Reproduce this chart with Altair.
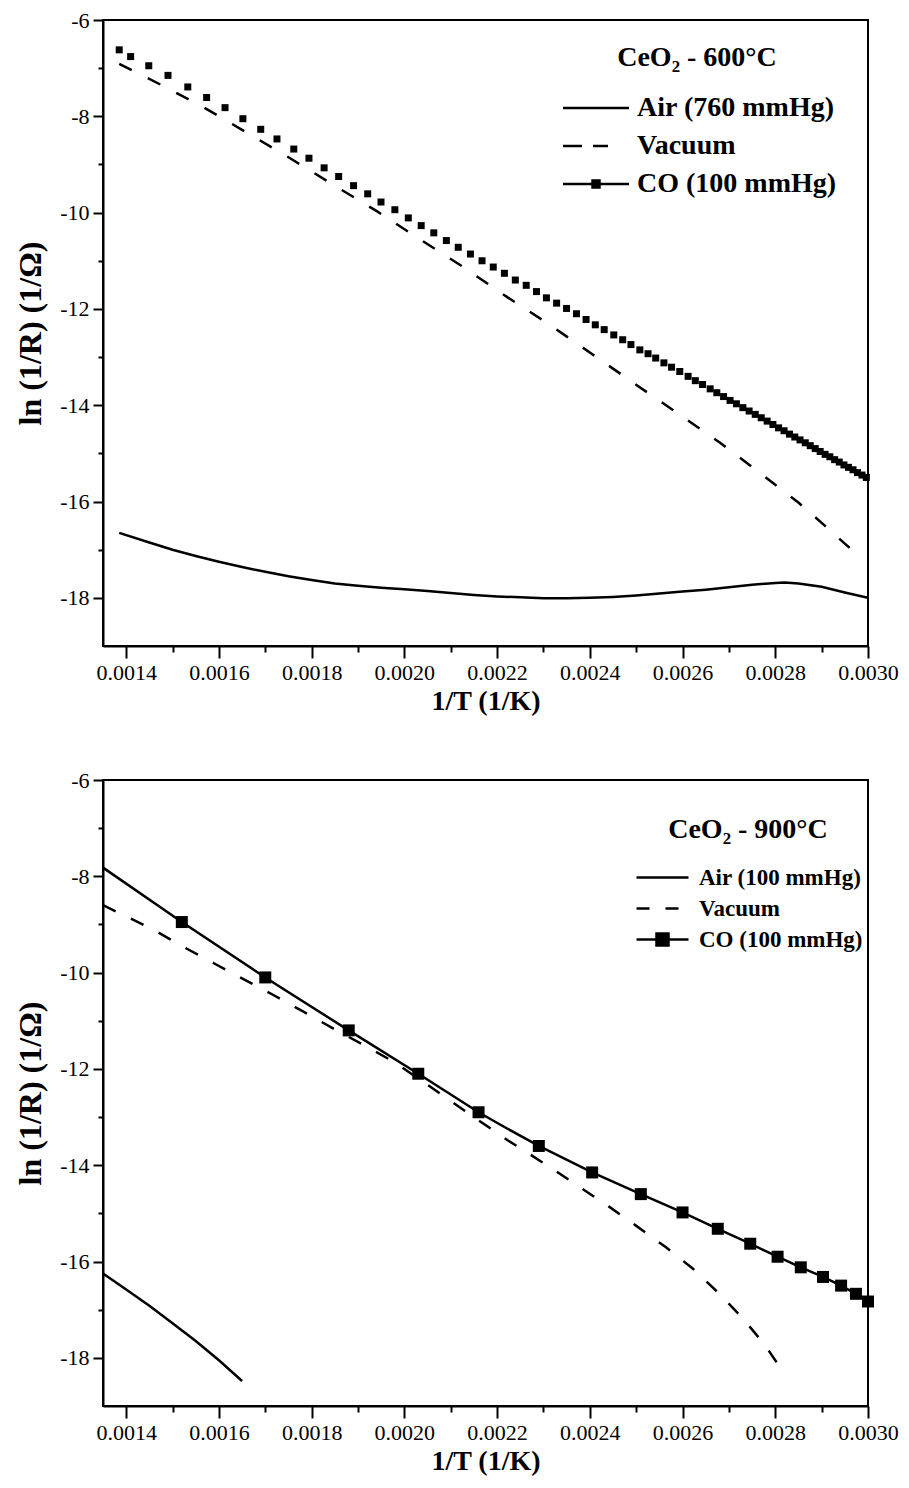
import altair as alt
import pandas as pd

FONT = "Liberation Serif"

# ---------------- Top panel: CeO2 - 600 C ----------------
top_names = ["Air (760 mmHg)", "Vacuum", "CO (100 mmHg)"]

top_air_x = [0.001385, 0.00145, 0.0015, 0.00155, 0.0016, 0.00165, 0.0017, 0.00175, 0.0018,
             0.00185, 0.0019, 0.00195, 0.0020, 0.00205, 0.0021, 0.00215, 0.0022, 0.00225,
             0.0023, 0.00235, 0.0024, 0.00245, 0.0025, 0.00255, 0.0026, 0.00265, 0.0027,
             0.00275, 0.0028, 0.00282, 0.00285, 0.0029, 0.00295, 0.0030]
top_air_y = [-16.65, -16.85, -17.0, -17.13, -17.25, -17.36, -17.46, -17.55, -17.63,
             -17.70, -17.75, -17.79, -17.82, -17.86, -17.90, -17.94, -17.97, -17.99,
             -18.01, -18.01, -18.0, -17.98, -17.95, -17.91, -17.87, -17.83, -17.78,
             -17.73, -17.69, -17.68, -17.70, -17.77, -17.89, -18.0]

top_vac_x = [0.001385, 0.0014737, 0.0015684, 0.0016603, 0.0017536, 0.0018462, 0.0019406,
             0.0020329, 0.0021254, 0.0022180, 0.0023107, 0.0024038, 0.0024962, 0.0025885,
             0.0026810, 0.0027701, 0.0028498, 0.0029068, 0.0029624]
top_vac_y = [-6.91, -7.34, -7.82, -8.34, -8.87, -9.42, -9.97, -10.55, -11.12, -11.73,
             -12.31, -12.93, -13.55, -14.16, -14.78, -15.43, -16.02, -16.50, -16.98]

top_co_x = [0.001385, 0.0014096, 0.0014487, 0.0014902, 0.0015329, 0.0015735, 0.0016132,
            0.0016517, 0.0016902, 0.0017252, 0.0017615, 0.0017942, 0.0018269, 0.0018583,
            0.0018904, 0.0019209, 0.0019496, 0.0019795, 0.0020085, 0.0020363, 0.0020635,
            0.0020906, 0.0021162, 0.0021425, 0.0021675, 0.0021917, 0.0022158, 0.0022393,
            0.0022628, 0.0022850, 0.0023064, 0.0023284, 0.0023498, 0.0023712, 0.0023919,
            0.0024118, 0.0024310, 0.0024517, 0.0024709, 0.0024887, 0.0025079, 0.0025256,
            0.0025421, 0.0025598, 0.0025763, 0.0025940, 0.0026120, 0.0026276, 0.0026432,
            0.0026596, 0.0026739, 0.0026885, 0.0027024, 0.0027162, 0.0027301, 0.0027436,
            0.0027568, 0.0027697, 0.0027825, 0.0027949, 0.0028071, 0.0028190, 0.0028306,
            0.0028421, 0.0028534, 0.0028647, 0.0028754, 0.0028861, 0.0028968, 0.0029075,
            0.0029177, 0.0029280, 0.0029380, 0.0029481, 0.0029579, 0.0029677, 0.0029774,
            0.0029870, 0.0029964]
top_co_y = [-6.62, -6.76, -6.95, -7.15, -7.39, -7.61, -7.82, -8.05, -8.27, -8.47, -8.68,
            -8.87, -9.07, -9.25, -9.44, -9.61, -9.78, -9.94, -10.11, -10.27, -10.42, -10.58,
            -10.72, -10.86, -11.00, -11.13, -11.26, -11.40, -11.51, -11.64, -11.77, -11.88,
            -11.99, -12.10, -12.22, -12.33, -12.43, -12.54, -12.64, -12.74, -12.85, -12.93,
            -13.02, -13.12, -13.21, -13.30, -13.40, -13.49, -13.57, -13.66, -13.74, -13.82,
            -13.90, -13.97, -14.05, -14.12, -14.19, -14.26, -14.33, -14.40, -14.47, -14.53,
            -14.60, -14.66, -14.72, -14.78, -14.84, -14.90, -14.96, -15.02, -15.07, -15.13,
            -15.18, -15.24, -15.29, -15.34, -15.40, -15.45, -15.50]

# ---------------- Bottom panel: CeO2 - 900 C ----------------
bot_names = ["Air (100 mmHg)", "Vacuum", "CO (100 mmHg)"]

bot_air_x = [0.00135, 0.0014, 0.00145, 0.0015, 0.00155, 0.0016, 0.00165]
bot_air_y = [-16.25, -16.58, -16.92, -17.28, -17.65, -18.05, -18.48]

bot_vac_x = [0.00135, 0.0014573, 0.0015223, 0.0015881, 0.0016539, 0.0017165, 0.0017823,
             0.0018481, 0.0019154, 0.0019783, 0.00205, 0.00213, 0.0022228, 0.0023173,
             0.0023791, 0.0024415, 0.0025018, 0.0025636, 0.0026226, 0.0026773, 0.0027291,
             0.0027766, 0.0028192]
bot_vac_y = [-8.6, -9.1, -9.46, -9.8, -10.14, -10.46, -10.81, -11.17, -11.52, -11.86,
             -12.33, -12.87, -13.48, -14.06, -14.46, -14.86, -15.27, -15.70, -16.15, -16.65,
             -17.17, -17.72, -18.32]

bot_co_x = [0.00135, 0.00152, 0.00170, 0.00188, 0.00203, 0.00216, 0.0022072, 0.00229,
            0.002405, 0.00251, 0.0026, 0.002676, 0.002746, 0.002805, 0.002855, 0.002903,
            0.002942, 0.002974, 0.0030]
bot_co_y = [-7.82, -8.95, -10.1, -11.2, -12.1, -12.9, -13.16, -13.6, -14.15, -14.6, -14.98,
            -15.32, -15.63, -15.9, -16.12, -16.32, -16.5, -16.67, -16.83]

bot_co_mark_x = [0.00152, 0.00170, 0.00188, 0.00203, 0.00216, 0.00229, 0.002405, 0.00251,
                 0.0026, 0.002676, 0.002746, 0.002805, 0.002855, 0.002903, 0.002942,
                 0.002974, 0.0030]
bot_co_mark_y = [-8.95, -10.1, -11.2, -12.1, -12.9, -13.6, -14.15, -14.6, -14.98, -15.32,
                 -15.63, -15.9, -16.12, -16.32, -16.5, -16.67, -16.83]

# ---------------- axes ----------------
x_ticks = [0.0014, 0.0015, 0.0016, 0.0017, 0.0018, 0.0019, 0.0020, 0.0021, 0.0022,
           0.0023, 0.0024, 0.0025, 0.0026, 0.0027, 0.0028, 0.0029, 0.0030]
y_ticks = [-18, -17, -16, -15, -14, -13, -12, -11, -10, -9, -8, -7, -6]
x_domain = [0.00135, 0.0030]
y_domain = [-19, -6]

W, H = 765, 626


def frame(xs, ys, name):
    return pd.DataFrame({"x": xs, "y": ys, "series": name})


def make_axes():
    xaxis = alt.Axis(
        values=x_ticks,
        labelExpr="round(datum.value*10000) % 2 == 0 ? format(datum.value, '.4f') : ''",
        tickSize={"condition": {"test": "round(datum.value*10000) % 2 != 0", "value": 6}, "value": 12},
        tickWidth=2, tickColor="black", domainWidth=2, domainColor="black",
        labelFont=FONT, labelFontSize=22, labelColor="black", labelPadding=4,
        labelFlush=False, labelOverlap=False, grid=False,
        titleFont=FONT, titleFontSize=28, titleFontWeight="bold", titleColor="black",
        titlePadding=4,
    )
    yaxis = alt.Axis(
        values=y_ticks,
        labelExpr="datum.value % 2 == 0 ? '' + datum.value : ''",
        tickSize={"condition": {"test": "datum.value % 2 != 0", "value": 5}, "value": 10},
        tickWidth=2, tickColor="black", domainWidth=2, domainColor="black",
        labelFont=FONT, labelFontSize=22, labelColor="black", labelPadding=4,
        labelFlush=False, labelOverlap=False, grid=False,
        titleFont=FONT, titleFontSize=32, titleFontWeight="bold", titleColor="black",
        titlePadding=12,
    )
    return xaxis, yaxis


def make_legend(title, lx, ly, lab_size, title_size, lab_offset, row_pad, title_pad):
    return alt.Legend(
        orient="none", legendX=lx, legendY=ly, title=title,
        titleFont=FONT, titleFontSize=title_size, titleFontWeight="bold",
        titleColor="black", titleAnchor="middle", titlePadding=title_pad,
        labelFont=FONT, labelFontSize=lab_size, labelFontWeight="bold",
        labelColor="black", labelOffset=lab_offset, labelLimit=500,
        symbolSize=256, symbolOpacity=1, symbolStrokeWidth=2.5, rowPadding=row_pad,
    )


def panel(solid_df, dashed_df, mark_df, names, dash, paths, msize, leg):
    xaxis, yaxis = make_axes()
    x = alt.X("x:Q", scale=alt.Scale(domain=x_domain, nice=False, zero=False),
              axis=xaxis, title="1/T (1/K)")
    y = alt.Y("y:Q", scale=alt.Scale(domain=y_domain, nice=False, zero=False),
              axis=yaxis, title="ln (1/R) (1/Ω)")
    solid = alt.Chart(solid_df).mark_line(color="black", strokeWidth=2.5, clip=True).encode(
        x=x, y=y, detail="series:N")
    dashed = alt.Chart(dashed_df).mark_line(color="black", strokeWidth=2.5, clip=True,
                                            strokeDash=dash).encode(x=x, y=y)
    marks = alt.Chart(mark_df).mark_square(color="black", size=msize, opacity=1).encode(x=x, y=y)
    legend = alt.Chart(pd.DataFrame({"series": names})).mark_point(
        filled=True, fill="black", stroke="black", strokeWidth=2.5, opacity=0
    ).encode(shape=alt.Shape("series:N", scale=alt.Scale(domain=names, range=paths), legend=leg))
    return alt.layer(solid, dashed, marks, legend).properties(width=W, height=H)


top = panel(frame(top_air_x, top_air_y, top_names[0]),
            frame(top_vac_x, top_vac_y, top_names[1]),
            frame(top_co_x, top_co_y, top_names[2]),
            top_names, [14, 18],
            ["M-1,0H7.25",
             "M-1,0H1.375M2.75,0H4.625",
             "M-1,0H7.25M2.69,-0.44H3.56V0.44H2.69Z"],
            49, make_legend("CeO₂ - 600°C", 454, 24, 28, 28, 52, 10, 22))

bottom = panel(pd.concat([frame(bot_air_x, bot_air_y, bot_names[0]),
                          frame(bot_co_x, bot_co_y, bot_names[2])]),
               frame(bot_vac_x, bot_vac_y, bot_names[1]),
               frame(bot_co_mark_x, bot_co_mark_y, bot_names[2]),
               bot_names, [14, 17],
               ["M-1,0H5.5",
                "M-1,0H0.625M2.625,0H4.25",
                "M-1,0H5.5M1.5,-0.75H3V0.75H1.5Z"],
               144, make_legend("CeO₂ - 900°C", 530, 36, 23, 28, 43, 7, 22))

chart = alt.vconcat(top, bottom, spacing=52).resolve_scale(
    shape="independent"
).resolve_legend(shape="independent").properties(
    padding={"left": 5, "top": 0, "right": 0, "bottom": 0}
).configure_view(stroke="black", strokeWidth=2)

chart.save("out.html", embed_options={"renderer": "svg", "actions": False})
